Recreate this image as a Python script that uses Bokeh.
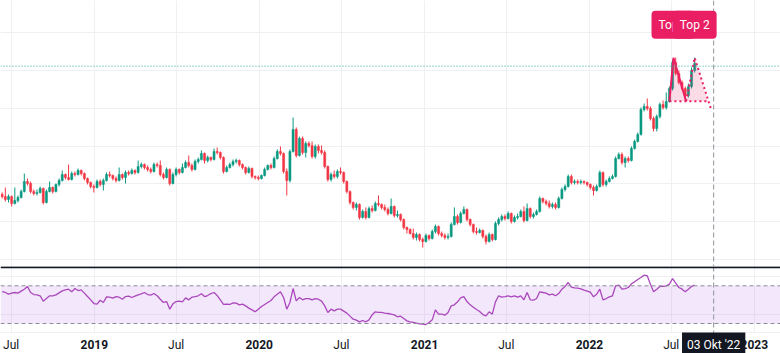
import pandas as pd
from bokeh.plotting import figure
from bokeh.layouts import column
from bokeh.models import ColumnDataSource, Range1d, FixedTicker, Span, Label, Grid, BoxAnnotation
from bokeh.embed import file_html
from bokeh.resources import INLINE
from bokeh.core.properties import value

# ---------------- data (weekly candles) ----------------
first_week = "2018-06-11"
first_open = 98.58
close = [
    98.31, 97.92, 98.31, 97.39, 97.78, 98.18, 98.98, 100.30, 100.04, 98.98,
    98.71, 98.85, 99.38, 97.52, 98.98, 99.51, 98.98, 99.91, 100.44, 101.23,
    100.83, 100.57, 101.36, 101.23, 101.76, 101.36, 100.70, 100.17, 99.64, 99.51,
    100.30, 99.91, 100.44, 101.23, 101.10, 100.70, 100.44, 101.23, 100.83, 101.50,
    101.36, 101.76, 101.50, 102.29, 102.56, 102.16, 101.90, 101.63, 102.56, 102.43,
    101.23, 100.83, 101.90, 100.04, 101.23, 101.90, 101.50, 102.16, 102.82, 102.43,
    101.90, 102.96, 103.22, 104.02, 103.09, 103.49, 103.22, 104.28, 104.15, 103.49,
    101.63, 102.16, 102.56, 102.96, 103.09, 102.56, 102.16, 101.50, 102.03, 100.97,
    100.83, 100.70, 101.10, 101.90, 102.43, 102.16, 103.35, 104.28, 104.02, 101.63,
    100.44, 104.28, 107.20, 103.75, 106.01, 104.15, 105.34, 105.08, 103.62, 104.95,
    104.42, 104.15, 102.29, 100.57, 101.23, 100.97, 101.63, 101.50, 100.30, 98.98,
    97.52, 96.86, 97.25, 95.53, 96.33, 95.53, 96.72, 96.46, 97.39, 97.25,
    96.86, 96.59, 96.06, 96.99, 95.80, 95.93, 95.26, 94.20, 93.94, 93.41,
    92.88, 93.27, 92.61, 92.35, 93.14, 92.74, 93.67, 94.34, 93.41, 93.14,
    92.88, 93.01, 94.60, 95.66, 94.87, 96.06, 96.59, 95.26, 94.60, 93.67,
    93.54, 93.81, 93.01, 92.35, 93.27, 92.61, 94.73, 95.26, 95.66, 95.40,
    96.06, 95.00, 95.53, 95.66, 96.33, 95.13, 96.72, 95.66, 95.93, 96.33,
    98.05, 97.65, 97.39, 96.99, 97.25, 96.86, 98.05, 99.24, 99.64, 100.97,
    100.17, 100.30, 100.17, 100.30, 100.17, 99.91, 99.51, 99.11, 99.64, 101.50,
    99.91, 100.30, 100.70, 100.97, 103.35, 103.88, 102.82, 103.35, 103.09, 104.68,
    105.61, 106.54, 109.85, 110.25, 109.99, 108.66, 107.33, 108.92, 110.52, 110.12,
    110.91, 112.64, 116.09, 114.63, 113.43, 112.64, 111.71, 112.90, 115.03, 115.95,
]
high = [
    98.85, 99.51, 98.58, 98.45, 99.51, 98.45, 99.24, 101.36, 100.70, 100.30,
    99.24, 99.24, 99.64, 99.51, 99.24, 100.30, 99.64, 100.04, 100.70, 101.76,
    101.36, 102.56, 101.63, 101.63, 102.03, 101.90, 101.50, 100.83, 100.30, 99.91,
    100.57, 100.57, 100.70, 101.50, 101.63, 101.23, 100.97, 102.16, 101.36, 101.76,
    101.76, 102.03, 101.90, 103.09, 102.82, 102.69, 102.43, 102.16, 102.82, 102.82,
    103.09, 101.50, 102.16, 102.03, 101.50, 102.16, 102.03, 102.69, 103.09, 103.75,
    102.69, 103.22, 103.49, 104.42, 104.15, 103.75, 103.62, 104.68, 104.81, 104.28,
    103.62, 102.43, 102.82, 103.22, 103.35, 103.22, 102.69, 102.29, 102.29, 102.16,
    101.10, 101.10, 101.23, 102.16, 102.56, 102.69, 103.62, 104.55, 104.95, 104.15,
    102.03, 104.55, 108.79, 107.47, 106.27, 106.27, 105.61, 105.61, 105.61, 105.21,
    105.21, 105.08, 104.42, 102.43, 101.50, 101.76, 101.90, 102.16, 101.63, 100.44,
    99.11, 97.65, 97.52, 97.39, 96.59, 96.86, 96.99, 97.12, 97.65, 98.45,
    97.39, 97.25, 96.86, 98.05, 97.12, 96.46, 96.06, 95.40, 94.34, 94.07,
    94.07, 93.54, 93.41, 92.88, 93.41, 93.27, 93.94, 94.60, 94.47, 93.67,
    93.41, 93.41, 94.87, 96.86, 95.93, 96.33, 96.99, 96.72, 95.40, 94.73,
    94.20, 94.07, 93.94, 93.27, 93.54, 93.41, 95.00, 95.53, 95.93, 95.93,
    96.33, 96.19, 95.80, 96.06, 96.59, 96.99, 97.39, 96.86, 96.19, 96.59,
    98.31, 98.18, 97.92, 97.78, 97.52, 97.52, 98.31, 99.51, 99.91, 101.23,
    101.23, 100.57, 100.57, 100.57, 100.44, 100.30, 100.04, 99.77, 99.91, 101.76,
    101.63, 100.57, 100.97, 101.23, 103.62, 104.15, 104.15, 103.62, 103.62, 104.95,
    105.87, 106.80, 110.12, 110.65, 111.31, 110.25, 108.92, 109.19, 110.78, 111.05,
    112.11, 112.90, 116.48, 116.75, 115.03, 113.70, 112.90, 113.30, 115.42, 116.75,
]
low = [
    98.05, 97.65, 97.52, 96.99, 97.25, 97.52, 98.05, 98.85, 99.77, 98.71,
    98.45, 98.45, 98.71, 97.25, 97.39, 98.85, 98.71, 98.85, 99.64, 100.30,
    100.57, 100.44, 100.44, 100.97, 101.10, 101.10, 100.44, 99.91, 99.38, 98.85,
    99.38, 99.64, 99.11, 100.30, 100.83, 100.44, 100.17, 100.30, 100.57, 100.04,
    101.10, 101.23, 101.23, 101.36, 102.03, 101.90, 101.63, 101.36, 101.50, 102.16,
    100.97, 100.57, 100.70, 99.77, 99.91, 100.97, 101.23, 101.36, 102.03, 102.16,
    101.63, 101.76, 102.69, 103.09, 102.69, 102.82, 102.96, 103.09, 103.88, 103.22,
    101.36, 101.50, 102.03, 102.29, 102.69, 102.29, 101.90, 101.23, 101.36, 100.70,
    100.57, 100.44, 100.57, 100.97, 101.76, 101.90, 102.03, 103.22, 103.75, 101.36,
    98.45, 100.17, 104.15, 103.49, 103.62, 103.88, 103.49, 104.81, 103.35, 103.35,
    104.02, 103.88, 102.03, 100.30, 100.30, 100.70, 100.70, 101.23, 100.04, 98.71,
    97.25, 96.59, 96.46, 95.26, 95.40, 95.26, 95.40, 96.19, 96.33, 96.99,
    96.59, 96.33, 95.80, 95.93, 95.53, 95.53, 95.00, 93.94, 93.41, 93.27,
    92.61, 92.48, 92.35, 91.55, 92.21, 92.48, 92.61, 93.41, 93.14, 92.88,
    92.61, 92.61, 92.88, 94.47, 94.60, 94.73, 95.93, 95.00, 94.34, 93.41,
    93.27, 93.41, 92.74, 91.95, 92.21, 92.35, 92.48, 94.47, 95.00, 95.13,
    95.26, 94.73, 94.87, 95.26, 95.53, 94.87, 95.00, 95.40, 95.40, 95.80,
    96.19, 97.39, 97.12, 96.72, 96.72, 96.59, 96.72, 97.92, 98.98, 99.51,
    99.91, 99.91, 99.91, 99.91, 99.91, 99.64, 99.24, 98.45, 98.98, 99.51,
    99.64, 99.64, 100.17, 100.57, 100.83, 103.22, 102.56, 102.16, 102.82, 102.96,
    104.55, 105.48, 106.40, 109.59, 109.72, 108.40, 106.94, 106.94, 108.66, 109.85,
    109.85, 110.78, 112.37, 114.36, 113.17, 112.37, 111.18, 111.44, 112.64, 114.76,
]
rsi = [
    63.9, 62.9, 61.1, 62.2, 62.9, 62.2, 64.3, 66.4, 69.3, 62.9,
    60.7, 60.4, 59.4, 53.7, 56.5, 59.4, 59.4, 60.4, 62.5, 64.6,
    65.7, 66.4, 63.6, 67.1, 65.0, 65.7, 62.2, 58.6, 55.1, 51.2,
    50.5, 54.7, 52.3, 58.3, 57.9, 56.9, 58.6, 57.9, 55.8, 58.6,
    59.0, 57.6, 59.0, 60.4, 61.5, 62.9, 60.7, 60.1, 61.8, 59.4,
    55.8, 52.3, 53.3, 45.2, 50.9, 53.3, 53.7, 53.0, 57.2, 55.1,
    57.9, 58.6, 59.4, 61.5, 58.6, 59.7, 61.8, 62.9, 59.7, 55.1,
    50.2, 50.5, 50.2, 51.9, 51.6, 49.8, 50.5, 48.7, 46.3, 44.5,
    42.4, 45.2, 48.0, 50.2, 52.3, 54.4, 58.3, 61.1, 63.6, 57.6,
    45.2, 52.3, 67.1, 54.0, 57.6, 55.1, 56.5, 56.5, 55.1, 56.5,
    55.8, 53.7, 48.7, 41.7, 45.2, 43.4, 45.2, 45.2, 43.1, 41.0,
    37.8, 34.6, 33.5, 31.8, 33.2, 31.8, 33.9, 39.2, 42.4, 41.7,
    41.7, 41.0, 40.6, 39.9, 39.2, 37.1, 37.8, 35.3, 32.8, 31.8,
    31.1, 30.3, 29.6, 29.3, 28.9, 31.1, 33.9, 44.5, 39.9, 39.9,
    38.8, 41.7, 48.7, 49.8, 53.0, 57.2, 58.6, 53.3, 49.8, 47.3,
    44.8, 42.7, 39.5, 38.1, 42.4, 39.9, 53.0, 59.4, 57.9, 58.6,
    59.4, 58.3, 59.4, 57.9, 59.4, 55.1, 62.9, 55.1, 54.7, 56.5,
    63.6, 62.9, 62.2, 60.4, 61.1, 59.4, 61.8, 66.4, 69.3, 73.5,
    68.5, 67.8, 67.5, 66.8, 65.4, 64.3, 63.2, 58.3, 61.1, 66.4,
    55.1, 56.5, 58.3, 59.4, 70.0, 70.7, 66.4, 67.1, 68.2, 72.1,
    74.2, 76.7, 78.8, 81.3, 80.6, 71.7, 63.6, 66.4, 69.3, 69.3,
    70.0, 71.7, 77.7, 72.8, 68.2, 66.4, 63.6, 66.4, 69.3, 70.7,
]

# double-top drawing
pattern_dates = ["2022-06-27", "2022-07-06", "2022-08-03", "2022-08-22", "2022-09-20", "2022-09-28"]
pattern_prices = [110.95, 116.71, 110.95, 116.71, 110.95, 109.72]
pattern_labels = ["Top 1", "Top 2"]
label_price = 121.1
level_line = 115.60

crosshair_date = "2022-10-03"
crosshair_text = "03 Okt '22"

price_grid = [90, 95, 100, 105, 110, 115, 120]
rsi_grid = [20, 40, 80]
rsi_upper, rsi_lower = 70, 30
time_ticks = ["2018-07-01", "2019-01-01", "2019-07-01", "2020-01-01", "2020-07-01",
              "2021-01-01", "2021-07-01", "2022-01-01", "2022-07-01", "2023-01-01"]
time_labels = ["Jul", "2019", "Jul", "2020", "Jul", "2021", "Jul", "2022", "Jul", "2023"]

# ---------------- helpers ----------------
def ms(d):
    return pd.Timestamp(d).value / 1e6

DAY = 86400000.0
UP, DOWN = "#089981", "#f23645"
GRID = "#f0f0f3"
FONT = "Roboto"

# time scale (view window)
anchor = pd.Timestamp("2018-07-01")
px_per_day = 0.45175
x_start = anchor - pd.Timedelta(days=10.7 / px_per_day)
x_end = anchor + pd.Timedelta(days=(780 - 10.7) / px_per_day)
xr = Range1d(start=ms(x_start), end=ms(x_end))

dates = pd.date_range(first_week, periods=len(close), freq="7D")
opens = [first_open] + close[:-1]
colors = [UP if c >= o else DOWN for o, c in zip(opens, close)]
src = ColumnDataSource(dict(
    date=[ms(d) for d in dates], open=opens, close=close, high=high, low=low,
    top=[max(o, c) for o, c in zip(opens, close)],
    bottom=[min(o, c) for o, c in zip(opens, close)],
    color=colors,
))

# ---------------- main price pane ----------------
p = figure(width=780, height=266, x_range=xr, y_range=Range1d(89.03, 124.31),
           x_axis_location=None, y_axis_location=None, toolbar_location=None,
           output_backend="svg", min_border=0, outline_line_color=None)
p.center = []
p.add_layout(Grid(dimension=0, ticker=FixedTicker(ticks=[ms(t) for t in time_ticks]),
                  grid_line_color=GRID, grid_line_width=1))
p.add_layout(Grid(dimension=1, ticker=FixedTicker(ticks=price_grid),
                  grid_line_color=GRID, grid_line_width=1))

p.segment(x0="date", y0="low", x1="date", y1="high", line_color="color", line_width=1, source=src)
p.vbar(x="date", width=4.6 * DAY, top="top", bottom="bottom", fill_color="color",
       line_color="color", line_width=0.5, source=src)

p.add_layout(Span(location=level_line, dimension="width", line_color="#22ab94",
                  line_dash="1 2", line_width=1))

pd_ms = [ms(d) for d in pattern_dates]
pp = pattern_prices
p.patches(xs=[[pd_ms[0], pd_ms[1], pd_ms[2]], [pd_ms[2], pd_ms[3], pd_ms[4]]],
          ys=[[pp[0], pp[1], pp[2]], [pp[2], pp[3], pp[4]]],
          fill_color="#e91e63", fill_alpha=0.16, line_color=None)
p.line(x=pd_ms[0:3], y=pp[0:3], line_color="#e91e63", line_width=2)
p.line(x=[pd_ms[2], pd_ms[3], pd_ms[5]], y=[pp[2], pp[3], pp[5]],
       line_color="#e91e63", line_width=2, line_dash="2 3")
p.line(x=[pd_ms[0], pd_ms[4]], y=[pp[0], pp[4]], line_color="#e91e63", line_width=2, line_dash="2 3")

p.add_layout(Span(location=ms(crosshair_date), dimension="height", line_color="#8f929b",
                  line_dash="5 3", line_width=1))

for d, t in zip([pattern_dates[1], pattern_dates[3]], pattern_labels):
    p.add_layout(Label(x=ms(d), y=label_price, text=t, text_align="center",
                       text_baseline="middle", text_color="white", text_font=FONT,
                       text_font_size="12px", background_fill_color="#e91e63",
                       background_fill_alpha=1.0, padding=7, border_radius=4))

# ---------------- RSI pane ----------------
q = figure(width=780, height=87, x_range=xr, y_range=Range1d(-1.83, 90.48),
           x_axis_location=None, y_axis_location=None, toolbar_location=None,
           output_backend="svg", min_border=0, outline_line_color=None)
q.center = []
q.add_layout(Grid(dimension=0, ticker=FixedTicker(ticks=[ms(t) for t in time_ticks]),
                  grid_line_color=GRID, grid_line_width=1))
q.add_layout(Grid(dimension=1, ticker=FixedTicker(ticks=rsi_grid),
                  grid_line_color=GRID, grid_line_width=1))
q.add_layout(BoxAnnotation(bottom=rsi_lower, top=rsi_upper, fill_color="#a040e0",
                           fill_alpha=0.12, line_color=None, level="underlay"))
for lv in (rsi_upper, rsi_lower):
    q.add_layout(Span(location=lv, dimension="width", line_color="#8a8d96",
                      line_dash="4 3", line_width=1))

q.line(x=[ms(d) for d in dates], y=rsi, line_color="#ab47bc", line_width=1.3)

# time-axis strip
q.quad(left=ms(x_start), right=ms(x_end), bottom=-1.83, top=19.4,
       fill_color="white", line_color=None)
years = [(ms(d), t) for d, t in zip(time_ticks, time_labels) if t != "Jul"]
months = [(ms(d), t) for d, t in zip(time_ticks, time_labels) if t == "Jul"]
q.text(x=[a for a, _ in years], y=7.4, text=[b for _, b in years], text_align="center",
       text_baseline="middle", text_font=value(FONT), text_font_size="12px",
       text_font_style="bold", text_color="#131722")
q.text(x=[a for a, _ in months], y=7.4, text=[b for _, b in months], text_align="center",
       text_baseline="middle", text_font=value(FONT), text_font_size="12px",
       text_color="#131722")

q.add_layout(Span(location=ms(crosshair_date), dimension="height", line_color="#8f929b",
                  line_dash="5 3", line_width=1))
q.add_layout(Span(location=89.6, dimension="width", line_color="#131722", line_width=2))
q.add_layout(Label(x=ms(crosshair_date), y=7.7, text=crosshair_text, text_align="center",
                   text_baseline="middle", text_color="white", text_font=FONT,
                   text_font_size="12px", background_fill_color="#131722",
                   background_fill_alpha=1.0, padding=5))

layout = column(p, q, spacing=0)
open("out.html", "w").write(file_html(layout, INLINE))
